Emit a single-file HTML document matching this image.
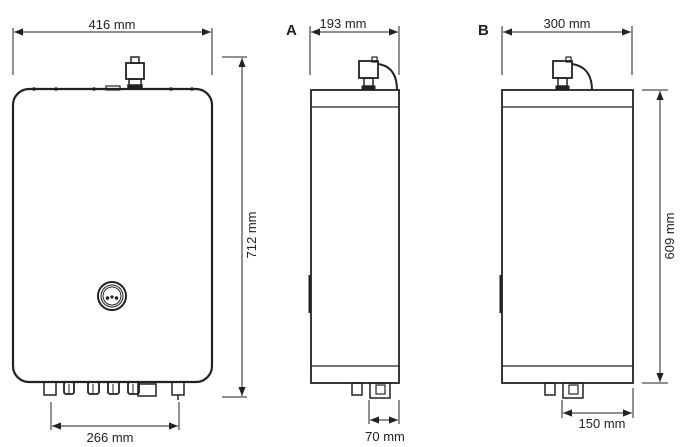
<!DOCTYPE html>
<html><head><meta charset="utf-8"><style>
html,body{margin:0;padding:0;background:#fff;}
svg{display:block;}
text{font-family:"Liberation Sans",Arial,sans-serif;fill:#222;}
</style></head><body>
<svg width="695" height="447" viewBox="0 0 695 447" xmlns="http://www.w3.org/2000/svg">
<defs>
<marker id="a" viewBox="0 0 10 10" refX="10" refY="5" markerWidth="9" markerHeight="9" orient="auto-start-reverse" markerUnits="userSpaceOnUse"><path d="M0,1 L10,5 L0,9 Z" fill="#222"/></marker>
</defs>
<g stroke="#222" fill="none">
<!-- FRONT -->
<line x1="13" y1="28" x2="13" y2="75" stroke-width="1"/>
<line x1="212" y1="28" x2="212" y2="75" stroke-width="1"/>
<line x1="14" y1="32" x2="211" y2="32" stroke-width="1" marker-start="url(#a)" marker-end="url(#a)"/>
<rect x="13" y="89" width="199" height="293" rx="16" stroke-width="2.2"/>
<g fill="#222" stroke="none">
<circle cx="34" cy="89" r="1.8"/><circle cx="56" cy="89" r="1.8"/><circle cx="94" cy="89" r="1.8"/><circle cx="171" cy="89" r="1.8"/><circle cx="192" cy="89" r="1.8"/>
</g>
<rect x="106" y="86" width="14" height="4" stroke-width="1.2"/>
<rect x="131" y="57" width="8" height="6" stroke-width="1.5"/>
<rect x="126" y="63" width="18" height="16" stroke-width="1.8"/>
<rect x="129" y="79" width="12" height="7" stroke-width="1.5"/>
<rect x="128" y="85" width="14" height="4" stroke-width="1.5" fill="#222"/>
<circle cx="112" cy="296" r="14" stroke-width="2"/>
<circle cx="112" cy="296" r="11" stroke-width="1"/>
<circle cx="112" cy="296" r="9" stroke-width="1"/>
<g fill="#222" stroke="none"><circle cx="107.5" cy="298" r="1.8"/><circle cx="112" cy="297" r="1.6"/><circle cx="116.5" cy="298" r="1.8"/></g>
<rect x="44" y="382" width="12" height="13" stroke-width="1.5"/>
<rect x="64" y="382" width="10" height="12" rx="2" stroke-width="1.8"/>
<rect x="88" y="382" width="11" height="12" rx="2" stroke-width="1.8"/>
<rect x="108" y="382" width="11" height="12" rx="2" stroke-width="1.8"/>
<rect x="128" y="382" width="11" height="12" rx="2" stroke-width="1.8"/>
<line x1="69" y1="384" x2="69" y2="393" stroke-width="1"/><line x1="93" y1="384" x2="93" y2="393" stroke-width="1"/><line x1="113" y1="384" x2="113" y2="393" stroke-width="1"/><line x1="133" y1="384" x2="133" y2="393" stroke-width="1"/>
<rect x="138" y="384" width="18" height="12" stroke-width="1.5"/>
<rect x="172" y="382" width="12" height="13" stroke-width="1.5"/>
<line x1="178" y1="395" x2="178" y2="400" stroke-width="1.5"/>
<line x1="51" y1="402" x2="51" y2="430" stroke-width="1"/>
<line x1="179" y1="402" x2="179" y2="430" stroke-width="1"/>
<line x1="52" y1="426" x2="178" y2="426" stroke-width="1" marker-start="url(#a)" marker-end="url(#a)"/>
<line x1="222" y1="57" x2="247" y2="57" stroke-width="1"/>
<line x1="222" y1="397" x2="247" y2="397" stroke-width="1"/>
<line x1="242" y1="58" x2="242" y2="396" stroke-width="1" marker-start="url(#a)" marker-end="url(#a)"/>

<!-- SIDE A -->
<line x1="310" y1="26" x2="310" y2="75" stroke-width="1"/>
<line x1="399" y1="26" x2="399" y2="75" stroke-width="1"/>
<line x1="311" y1="32" x2="398" y2="32" stroke-width="1" marker-start="url(#a)" marker-end="url(#a)"/>
<rect x="311" y="90" width="88" height="293" stroke-width="1.8"/>
<line x1="311" y1="107" x2="399" y2="107" stroke-width="1.2"/>
<line x1="311" y1="366" x2="399" y2="366" stroke-width="1.2"/>
<line x1="310" y1="275" x2="310" y2="313" stroke-width="3"/>
<rect x="372" y="57" width="5" height="5" stroke-width="1.2"/>
<rect x="359" y="61" width="19" height="17" stroke-width="1.8"/>
<rect x="364" y="78" width="9" height="8" stroke-width="1.5"/>
<rect x="362" y="86" width="13" height="4" fill="#222" stroke-width="1"/>
<path d="M378,64 C392,66 397,76 397,90" stroke-width="2"/>
<rect x="352" y="383" width="10" height="12" stroke-width="1.5"/>
<rect x="370" y="383" width="20" height="15" stroke-width="1.5"/>
<rect x="376" y="385" width="9" height="9" stroke-width="1.2"/>
<line x1="369" y1="400" x2="369" y2="424" stroke-width="1"/>
<line x1="399" y1="400" x2="399" y2="424" stroke-width="1"/>
<line x1="370" y1="420" x2="398" y2="420" stroke-width="1" marker-start="url(#a)" marker-end="url(#a)"/>

<!-- SIDE B -->
<line x1="502" y1="26" x2="502" y2="75" stroke-width="1"/>
<line x1="632" y1="26" x2="632" y2="75" stroke-width="1"/>
<line x1="503" y1="32" x2="631" y2="32" stroke-width="1" marker-start="url(#a)" marker-end="url(#a)"/>
<rect x="502" y="90" width="131" height="293" stroke-width="1.8"/>
<line x1="502" y1="107" x2="633" y2="107" stroke-width="1.2"/>
<line x1="502" y1="366" x2="633" y2="366" stroke-width="1.2"/>
<line x1="501" y1="275" x2="501" y2="313" stroke-width="3"/>
<rect x="566" y="57" width="5" height="5" stroke-width="1.2"/>
<rect x="553" y="61" width="19" height="17" stroke-width="1.8"/>
<rect x="558" y="78" width="9" height="8" stroke-width="1.5"/>
<rect x="556" y="86" width="13" height="4" fill="#222" stroke-width="1"/>
<path d="M572,64 C586,66 592,76 592,90" stroke-width="2"/>
<rect x="545" y="383" width="10" height="12" stroke-width="1.5"/>
<rect x="563" y="383" width="20" height="15" stroke-width="1.5"/>
<rect x="569" y="385" width="9" height="9" stroke-width="1.2"/>
<line x1="562" y1="400" x2="562" y2="418" stroke-width="1"/>
<line x1="633" y1="388" x2="633" y2="418" stroke-width="1"/>
<line x1="563" y1="413" x2="632" y2="413" stroke-width="1" marker-start="url(#a)" marker-end="url(#a)"/>
<line x1="642" y1="90" x2="668" y2="90" stroke-width="1"/>
<line x1="642" y1="383" x2="668" y2="383" stroke-width="1"/>
<line x1="660" y1="91" x2="660" y2="382" stroke-width="1" marker-start="url(#a)" marker-end="url(#a)"/>
</g>
<g font-size="13">
<text x="112" y="29" text-anchor="middle">416 mm</text>
<text x="110" y="442" text-anchor="middle">266 mm</text>
<text transform="translate(256,235) rotate(-90)" text-anchor="middle">712 mm</text>
<text x="343" y="28" text-anchor="middle">193 mm</text>
<text x="385" y="441" text-anchor="middle">70 mm</text>
<text x="567" y="28" text-anchor="middle">300 mm</text>
<text x="602" y="428" text-anchor="middle">150 mm</text>
<text transform="translate(674,236) rotate(-90)" text-anchor="middle">609 mm</text>
</g>
<text x="286" y="35" font-size="15" font-weight="bold">A</text>
<text x="478" y="35" font-size="15" font-weight="bold">B</text>
</svg>
</body></html>
